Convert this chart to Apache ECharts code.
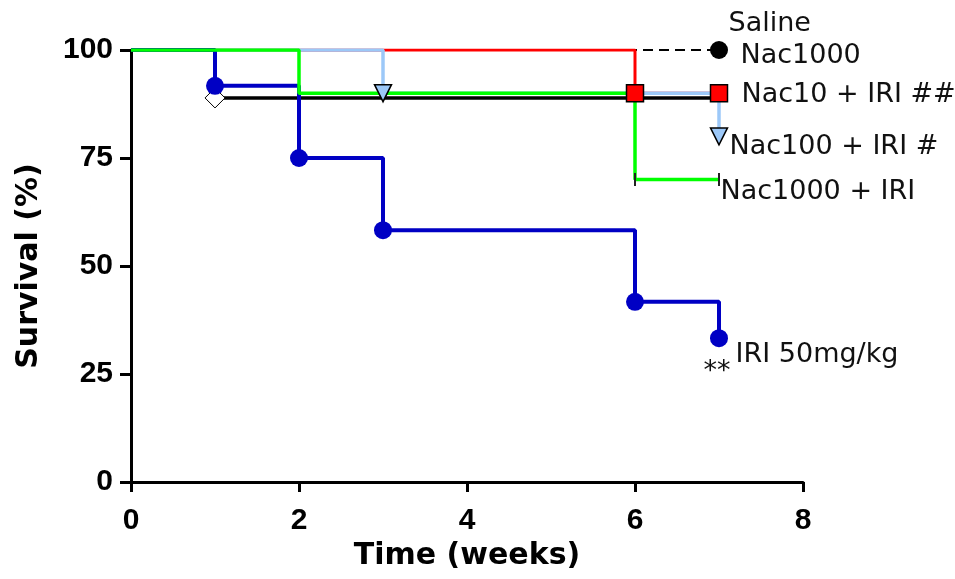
<!DOCTYPE html>
<html>
<head>
<meta charset="utf-8">
<script src="https://cdn.jsdelivr.net/npm/echarts@6/dist/echarts.min.js"></script>
<style>
  html, body { margin: 0; padding: 0; background: #fff; }
  #chart { width: 955px; height: 579px; }
</style>
</head>
<body>
<div id="chart"></div>
<script>
// 坐标轴刻度
const xTicks = [0, 2, 4, 6, 8]
const yTicks = [0, 25, 50, 75, 100]

// 各组生存曲线：时间(周) / 生存率(%)
const nac1000Time = [0, 7]
const nac1000Surv = [100, 100]
const salineTime = [0, 1, 7]
const salineSurv = [100, 88.9, 88.9]
const nac10Time = [0, 6, 7]
const nac10Surv = [100, 90, 90]
const nac100Time = [0, 3, 7]
const nac100Surv = [100, 90, 80]
const nac1000IriTime = [0, 2, 6, 7]
const nac1000IriSurv = [100, 90, 70, 70]
const iriTime = [0, 1, 2, 3, 6, 7]
const iriSurv = [100, 91.7, 75, 58.3, 41.7, 33.3]

// 曲线末端文字
const groupNames = ["Nac1000", "Saline", "Nac10 + IRI ##", "Nac100 + IRI #", "Nac1000 + IRI", "IRI 50mg/kg"]
const iriMark = "**"

const myChart = echarts.init(document.getElementById("chart"))

function kmSeries(name, times, surv, st) {
  return {
    name: name,
    type: "line",
    step: "end",
    silent: true,
    showSymbol: true,
    symbolSize: st.symbolSize,
    symbolRotate: st.rotate || 0,
    lineStyle: { color: st.color, width: st.width, type: st.type || "solid" },
    itemStyle: { color: st.fill, borderColor: st.border || st.fill, borderWidth: st.borderWidth || 0 },
    data: times.map((t, i) => ({
      value: [t, surv[i]],
      symbol: st.marks.indexOf(i) >= 0 ? st.symbol : "none"
    }))
  }
}

const last = (arr) => arr[arr.length - 1]

function labelItem(text, times, surv, offset) {
  return {
    value: [last(times), last(surv)],
    label: { formatter: text, offset: offset }
  }
}

const series = [
  kmSeries("Nac1000", nac1000Time, nac1000Surv, {
    color: "#000", width: 2, type: [10, 6], symbol: "circle", symbolSize: 18, fill: "#000", marks: [1]
  }),
  kmSeries("Nac10 + IRI", nac10Time, nac10Surv, {
    color: "#ff0000", width: 3, symbol: "rect", symbolSize: 17, fill: "#ff0000", border: "#000", borderWidth: 1.5, marks: [1, 2]
  }),
  kmSeries("Saline", salineTime, salineSurv, {
    color: "#000", width: 3.5, symbol: "diamond", symbolSize: 20, fill: "#fff", border: "#000", borderWidth: 1, marks: [1]
  }),
  kmSeries("Nac100 + IRI", nac100Time, nac100Surv, {
    color: "#9cc8f8", width: 3.5, symbol: "triangle", rotate: 180, symbolSize: 17, fill: "#9cc8f8", border: "#000", borderWidth: 1.5, marks: [1, 2]
  }),
  kmSeries("IRI 50mg/kg", iriTime, iriSurv, {
    color: "#0000c4", width: 4, symbol: "circle", symbolSize: 18, fill: "#0000c4", marks: [1, 2, 3, 4, 5]
  }),
  kmSeries("Nac1000 + IRI", nac1000IriTime, nac1000IriSurv, {
    color: "#00ff00", width: 3.5, symbol: "rect", symbolSize: [2, 13], fill: "#222", marks: [2, 3]
  }),
  {
    name: "labels",
    type: "scatter",
    silent: true,
    symbolSize: 1,
    itemStyle: { color: "rgba(255,255,255,0)" },
    label: {
      show: true,
      position: "right",
      distance: 0,
      align: "left",
      verticalAlign: "middle",
      fontFamily: "DejaVu Sans",
      fontSize: 27,
      color: "#111",
      opacity: 1
    },
    data: [
      labelItem(groupNames[0], nac1000Time, nac1000Surv, [21, 6]),
      labelItem(groupNames[1], salineTime, salineSurv, [9, -74]),
      labelItem(groupNames[2], nac10Time, nac10Surv, [22, 2]),
      labelItem(groupNames[3], nac100Time, nac100Surv, [10, 11]),
      labelItem(groupNames[4], nac1000IriTime, nac1000IriSurv, [1, 12]),
      labelItem(groupNames[5], iriTime, iriSurv, [16, 17]),
      labelItem(iriMark, iriTime, iriSurv, [-16, 34])
    ]
  }
]

const axisText = { fontFamily: "Liberation Sans", fontWeight: "bold", fontSize: 30, color: "#000" }
const nameText = { fontFamily: "DejaVu Sans", fontWeight: "bold", fontSize: 30, color: "#000" }

const option = {
  animation: false,
  backgroundColor: "#fff",
  grid: {
    left: 131,
    right: 152,
    top: 50,
    bottom: 97,
    containLabel: false,
    outerBoundsMode: "none"
  },
  xAxis: {
    type: "value",
    min: xTicks[0],
    max: last(xTicks),
    interval: xTicks[1] - xTicks[0],
    name: "Time (weeks)",
    nameLocation: "middle",
    nameGap: 55,
    nameTextStyle: nameText,
    axisLine: { show: true, lineStyle: { color: "#000", width: 3 } },
    axisTick: { show: true, length: 10, lineStyle: { color: "#000", width: 3 } },
    axisLabel: Object.assign({ margin: 24 }, axisText),
    splitLine: { show: false }
  },
  yAxis: {
    type: "value",
    min: yTicks[0],
    max: last(yTicks),
    interval: yTicks[1] - yTicks[0],
    name: "Survival (%)",
    nameLocation: "middle",
    nameGap: 87,
    nameTextStyle: nameText,
    axisLine: { show: true, lineStyle: { color: "#000", width: 3 } },
    axisTick: { show: true, length: 11, lineStyle: { color: "#000", width: 3 } },
    axisLabel: Object.assign({ margin: 18 }, axisText),
    splitLine: { show: false }
  },
  series: series
}

myChart.setOption(option)
</script>
</body>
</html>
